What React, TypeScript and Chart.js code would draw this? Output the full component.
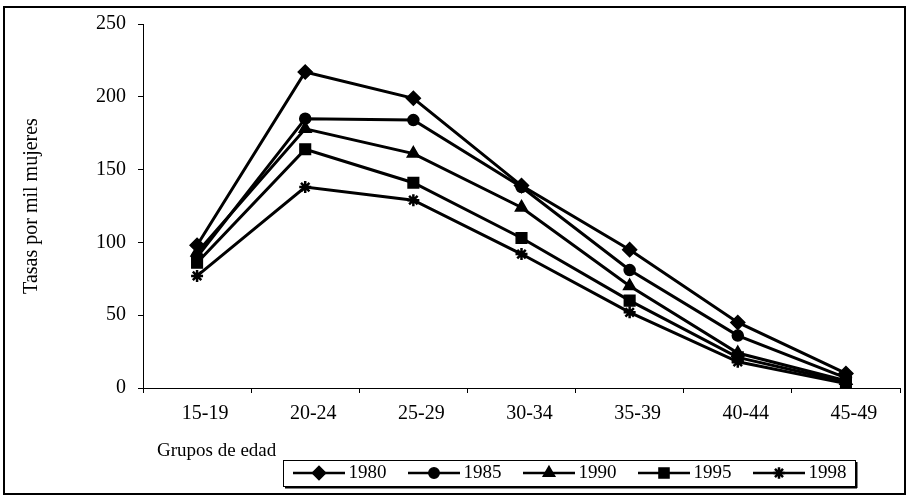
import React, { useEffect, useRef } from 'react';
import { Chart, registerables } from 'chart.js';
import { drawPoint } from 'chart.js/helpers';

Chart.register(...registerables);

const categories = ['15-19', '20-24', '25-29', '30-34', '35-39', '40-44', '45-49'];
const seriesNames = ['1980', '1985', '1990', '1995', '1998'];
const values1980 = [98, 217, 199, 139, 95, 45, 10];
const values1985 = [90, 185, 184, 138, 81, 36, 7];
const values1990 = [93, 178, 161, 124, 70, 24, 5];
const values1995 = [86, 164, 141, 103, 60, 21, 4];
const values1998 = [77, 138, 129, 92, 52, 18, 3];
const yMin = 0;
const yMax = 250;
const yStep = 50;
const yTitle = 'Tasas por mil mujeres';
const xTitle = 'Grupos de edad';

const allValues = [values1980, values1985, values1990, values1995, values1998];
const markerStyles = ['rectRot', 'circle', 'triangle', 'rect', 'star'];
const markerRadii = [7, 5.5, 7, 7.5, 6];
const markerBorders = [1.5, 1.5, 1.5, 1.5, 2.5];

const FONT = '"Liberation Serif", "Times New Roman", serif';

function makeSample(style: string, radius: number, bw: number): HTMLCanvasElement {
  const c = document.createElement('canvas');
  c.width = 52;
  c.height = 18;
  const ctx = c.getContext('2d')!;
  ctx.strokeStyle = '#000';
  ctx.fillStyle = '#000';
  ctx.lineWidth = 2.5;
  ctx.beginPath();
  ctx.moveTo(0, 9);
  ctx.lineTo(52, 9);
  ctx.stroke();
  ctx.lineWidth = bw;
  drawPoint(ctx, { pointStyle: style as any, radius, borderWidth: bw, rotation: 0 } as any, 26, 9);
  return c;
}

const LEGEND_PAD = 27.5;

const legendShiftPlugin = {
  id: 'legendShift',
  afterLayout(chart: any) {
    const lg = chart.legend;
    if (!lg) return;
    const w = lg.right - lg.left;
    lg.left = chart.chartArea.left + 156 - LEGEND_PAD;
    lg.right = lg.left + w;
  },
};

const decorPlugin = {
  id: 'decor',
  afterDraw(chart: any) {
    const ctx = chart.ctx;
    const lg = chart.legend;
    ctx.save();
    const hb = lg.legendHitBoxes;
    if (hb && hb.length) {
      const first = hb[0];
      const last = hb[hb.length - 1];
      const left = Math.round(first.left - 16);
      const right = Math.round(last.left + last.width + 8);
      const top = Math.round(first.top - 3.5);
      const bottom = Math.round(first.top + first.height + 3.5);
      ctx.strokeStyle = '#000';
      ctx.lineWidth = 1;
      ctx.strokeRect(left + 0.5, top + 0.5, right - left, bottom - top);
      ctx.fillStyle = '#000';
      ctx.fillRect(right, top + 2, 2.5, bottom - top);
      ctx.fillRect(left + 2, bottom, right - left, 2.5);
    }
    const xs = chart.scales.x;
    ctx.fillStyle = '#000';
    ctx.font = `19px ${FONT}`;
    ctx.textAlign = 'left';
    ctx.textBaseline = 'middle';
    ctx.fillText(xTitle, chart.chartArea.left + 14, xs.bottom + 15);
    ctx.restore();
  },
};

export default function App() {
  const ref = useRef<HTMLCanvasElement | null>(null);

  useEffect(() => {
    if (!ref.current) return;
    const samples = markerStyles.map((s, i) => makeSample(s, markerRadii[i] * 0.95, markerBorders[i]));
    const chart = new Chart(ref.current, {
      type: 'line',
      data: {
        labels: categories,
        datasets: seriesNames.map((name, i) => ({
          label: name,
          data: allValues[i],
          borderColor: '#000',
          backgroundColor: '#000',
          borderWidth: 3,
          pointStyle: markerStyles[i] as any,
          pointRadius: markerRadii[i],
          pointBackgroundColor: '#000',
          pointBorderColor: '#000',
          pointBorderWidth: markerBorders[i],
          tension: 0,
          fill: false,
        })),
      },
      options: {
        animation: false,
        responsive: false,
        layout: { padding: { top: 24, right: 6, bottom: 4.5, left: 0 } },
        plugins: {
          tooltip: { enabled: false },
          title: { display: false },
          legend: {
            display: true,
            position: 'bottom',
            align: 'start',
            labels: {
              usePointStyle: true,
              pointStyleWidth: 40,
              padding: LEGEND_PAD,
              color: '#000',
              font: { family: FONT, size: 19 },
              generateLabels: (ch: any) =>
                ch.data.datasets.map((ds: any, i: number) => ({
                  text: ds.label,
                  pointStyle: samples[i],
                  fillStyle: '#000',
                  strokeStyle: '#000',
                  lineWidth: 0,
                  hidden: false,
                  datasetIndex: i,
                  fontColor: '#000',
                })),
            },
          },
        },
        scales: {
          x: {
            type: 'category',
            offset: true,
            grid: {
              offset: true,
              drawOnChartArea: false,
              drawTicks: true,
              tickLength: 5,
              color: '#000',
            },
            border: { display: true, color: '#000', width: 1 },
            ticks: {
              color: '#000',
              font: { family: FONT, size: 20 },
              padding: 9,
              labelOffset: 8,
              maxRotation: 0,
              autoSkip: false,
            },
            afterFit: (scale: any) => {
              scale.height = 48;
            },
          },
          y: {
            min: yMin,
            max: yMax,
            grid: {
              drawOnChartArea: false,
              drawTicks: true,
              tickLength: 5,
              color: '#000',
            },
            border: { display: true, color: '#000', width: 1 },
            ticks: {
              stepSize: yStep,
              color: '#000',
              font: { family: FONT, size: 20 },
              padding: 12,
            },
            title: {
              display: true,
              text: yTitle,
              color: '#000',
              font: { family: FONT, size: 20 },
              padding: { top: 20, bottom: 0 },
            },
            afterFit: (scale: any) => {
              scale.width = 143;
            },
          },
        },
      },
      plugins: [legendShiftPlugin, decorPlugin],
    });
    return () => chart.destroy();
  }, []);

  return (
    <div style={{ position: 'absolute', left: 0, top: 0, width: 909, height: 497, background: '#fff' }}>
      <div
        style={{
          position: 'absolute',
          left: 3,
          top: 6,
          width: 903,
          height: 489,
          border: '2px solid #000',
          boxSizing: 'border-box',
        }}
      />
      <canvas ref={ref} width={909} height={497} style={{ position: 'absolute', left: 0, top: 0 }} />
    </div>
  );
}
